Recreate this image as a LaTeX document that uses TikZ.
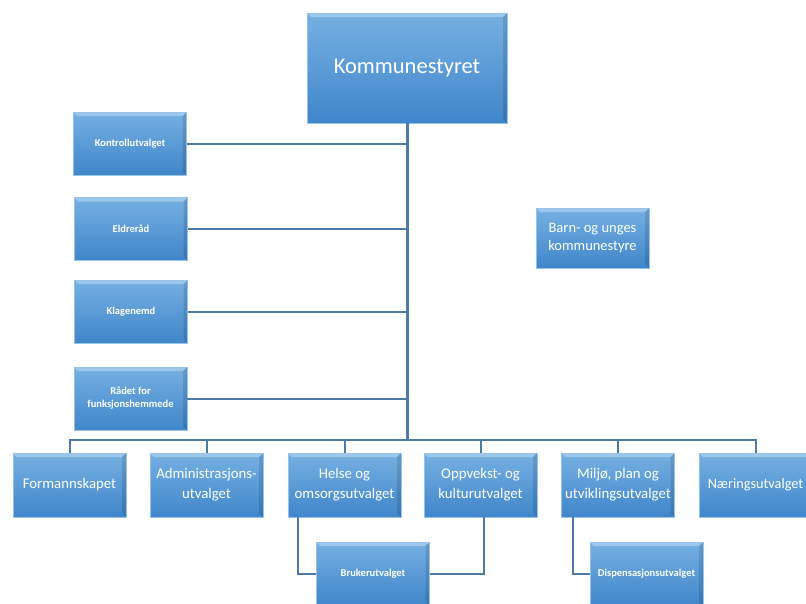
\documentclass[tikz,border=0pt]{standalone}
\usepackage{fontspec}
\setmainfont{Carlito}
\definecolor{boxtop}{RGB}{118,176,226}
\definecolor{boxbot}{RGB}{64,134,202}
\definecolor{boxedge}{RGB}{150,195,236}
\definecolor{linec}{RGB}{78,122,170}
\tikzset{
  orgbox/.style={rectangle, top color=boxtop, bottom color=boxbot, draw=boxedge,
    line width=0.6pt, text=white, align=center, inner sep=2pt,
    path picture={
      \fill[white, opacity=0.3] (path picture bounding box.north west) -- (path picture bounding box.north east)
        -- ([xshift=-4pt,yshift=-4pt]path picture bounding box.north east)
        -- ([xshift=4pt,yshift=-4pt]path picture bounding box.north west) -- cycle;
      \fill[black, opacity=0.12] (path picture bounding box.south east) -- (path picture bounding box.north east)
        -- ([xshift=-4pt,yshift=-4pt]path picture bounding box.north east)
        -- ([xshift=-4pt,yshift=4pt]path picture bounding box.south east) -- cycle;
    }},
  smallbox/.style={orgbox, minimum width=113pt, minimum height=63pt, font=\fontsize{10.5}{13}\selectfont\bfseries},
  rowbox/.style={orgbox, minimum width=113pt, minimum height=64pt, font=\fontsize{14.8}{20}\selectfont},
  conn/.style={draw=linec, line width=2pt},
}
\begin{document}
\begin{tikzpicture}[x=1pt, y=-1pt]
\useasboundingbox (0,0) rectangle (806,603);

% top
\node[orgbox, minimum width=200pt, minimum height=110pt, font=\fontsize{22.5}{27}\selectfont] (kst) at (407,68) {Kommunestyret};

% left column
\node[smallbox] (kontroll) at (130,143.5) {Kontrollutvalget};
\node[smallbox] (eldre) at (131,229) {Eldreråd};
\node[smallbox] (klage) at (131,311.5) {Klagenemd};
\node[smallbox] (raadet) at (130.5,398.5) {Rådet for\\funksjonshemmede};

\node[orgbox, minimum width=113pt, minimum height=60pt, font=\fontsize{14.5}{18}\selectfont] (barn) at (592.5,238) {Barn- og unges\\kommunestyre};

% bottom row
\node[rowbox] (form) at (69.5,485) {Formannskapet};
\node[rowbox] (adm) at (206.5,485) {Administrasjons-\\utvalget};
\node[rowbox] (helse) at (344.5,485) {Helse og\\omsorgsutvalget};
\node[rowbox] (oppv) at (480.5,485) {Oppvekst- og\\kulturutvalget};
\node[rowbox] (miljo) at (618,485) {Miljø, plan og\\utviklingsutvalget};
\node[rowbox, font=\fontsize{14.3}{20}\selectfont] (naer) at (755.5,485) {Næringsutvalget};

\node[smallbox, minimum height=64pt] (bruker) at (373,574) {Brukerutvalget};
\node[smallbox, minimum height=64pt] (disp) at (646.5,574) {Dispensasjonsutvalget};

\coordinate (bus) at (407,440);

\draw[conn, line width=3pt] (kst.south) -- (bus);
\draw[conn] (kontroll.east) -- (kontroll.east -| kst.south);
\draw[conn] (eldre.east) -- (eldre.east -| kst.south);
\draw[conn] (klage.east) -- (klage.east -| kst.south);
\draw[conn] (raadet.east) -- (raadet.east -| kst.south);

\draw[conn] (bus) -| (form.north);
\draw[conn] (bus) -| (adm.north);
\draw[conn] (bus) -| (helse.north);
\draw[conn] (bus) -| (oppv.north);
\draw[conn] (bus) -| (miljo.north);
\draw[conn] (bus) -| (naer.north);

\draw[conn] ([xshift=10pt]helse.south west) |- (bruker.west);
\draw[conn] ([xshift=3pt]oppv.south) |- (bruker.east);
\draw[conn] ([xshift=12pt]miljo.south west) |- (disp.west);

\end{tikzpicture}
\end{document}
